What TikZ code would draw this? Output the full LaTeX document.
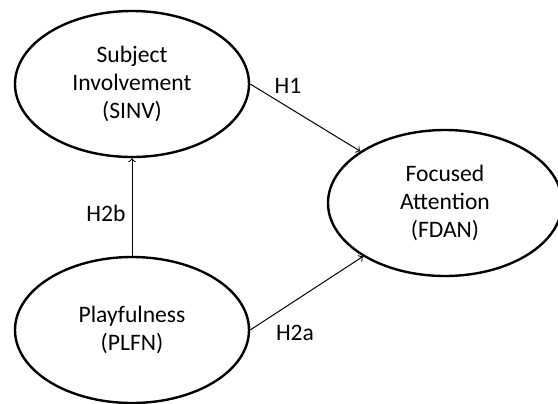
\documentclass[tikz,border=0pt]{standalone}
\usepackage{fontspec}
\setmainfont{Carlito}
\usetikzlibrary{shapes.geometric}
\begin{document}
\begin{tikzpicture}[x=0.5pt, y=-0.5pt,
		construct/.style={draw, ellipse, line width=1.2pt, minimum width=117pt, minimum height=73pt, align=center, font=\fontsize{11.8}{14}\selectfont},
		hyp/.style={font=\fontsize{11.8}{14}\selectfont, inner sep=0pt}]
		\useasboundingbox (0,0) rectangle (558,403);
		\node[construct] (sinv) at (132,84) {Subject\\Involvement\\(SINV)} ;
		\node[construct] (plfn) at (132,330) {Playfulness\\(PLFN)} ;
		\node[construct] (fdan) at (445,203) {Focused\\Attention\\(FDAN)} ;
		\node[hyp] (h1) at (288,86) {H1} ;
		\node[hyp] (h2b) at (106,213) {H2b} ;
		\node[hyp] (h2a) at (295,333) {H2a} ;
		\draw[->, line width=0.5pt] (sinv.east) -- (fdan);
		\draw[->, line width=0.5pt] (plfn.east) -- (fdan);
		\draw[->, line width=0.5pt] (plfn.north) -- (sinv.south);
	\end{tikzpicture}
\end{document}
